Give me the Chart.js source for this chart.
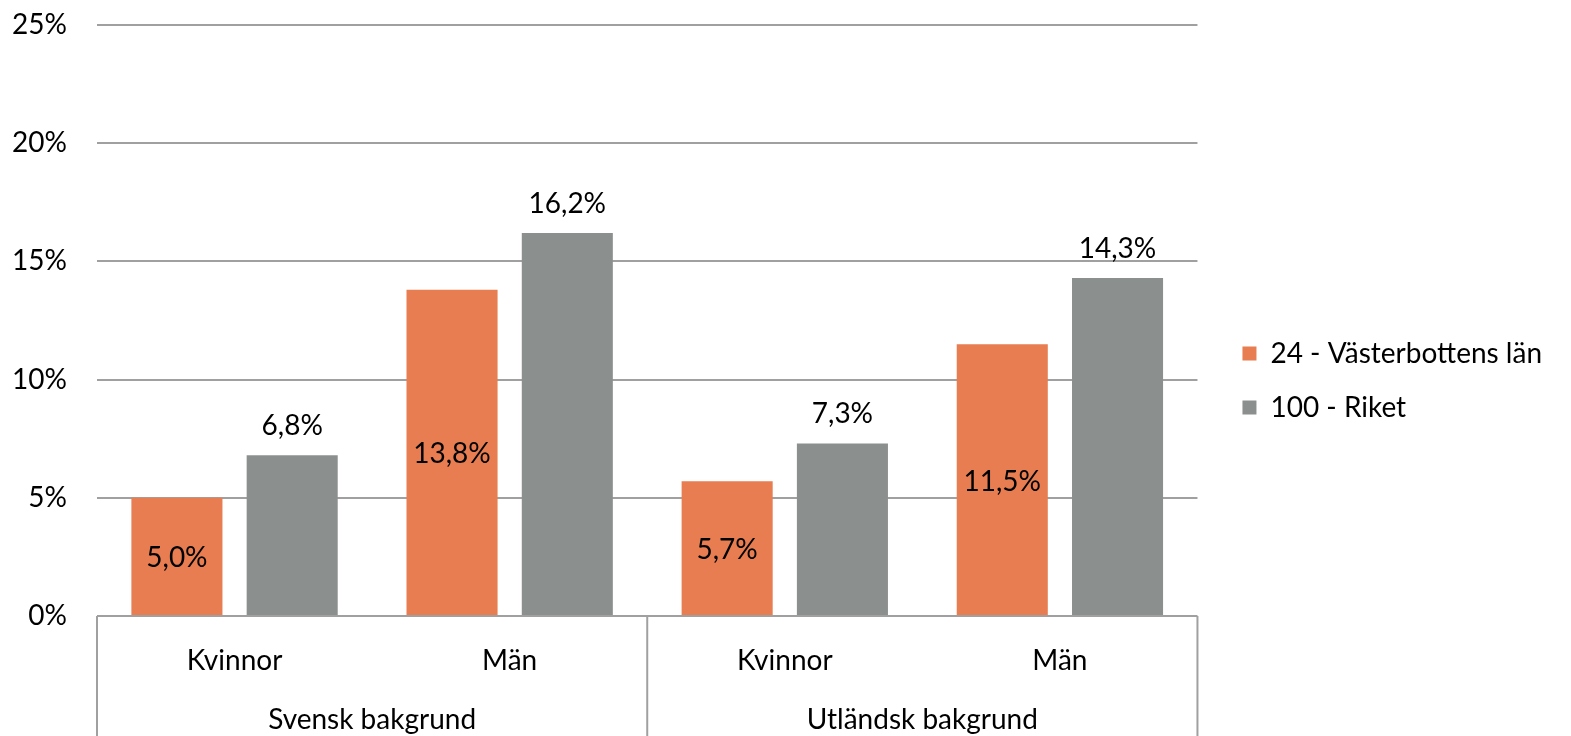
<!DOCTYPE html>
<html>
<head>
<meta charset="utf-8">
<script src="https://cdn.jsdelivr.net/npm/chart.js@4.4.0/dist/chart.umd.min.js"></script>
<style>
  html, body { margin: 0; padding: 0; background: #fff; }
  #wrap { width: 1571px; height: 736px; }
</style>
</head>
<body>
<div id="wrap"><canvas id="graf"></canvas></div>
<script>
// kategorier och grupper
var kategorier = ['Kvinnor', 'Män', 'Kvinnor', 'Män'];
var grupper = ['Svensk bakgrund', 'Utländsk bakgrund'];
var serieNamn = ['24 - Västerbottens län', '100 - Riket'];
var vasterbotten = [5.0, 13.8, 5.7, 11.5];
var riket = [6.8, 16.2, 7.3, 14.3];
var yTicks = [0, 5, 10, 15, 20, 25];

var fontNamn = 'Lato, "Open Sans", sans-serif';
var fs = 28;

function fmt(v) {
    return v.toFixed(1).replace('.', ',') + '%';
}

// etiketter på staplarna + ramen under x-axeln
var etikettPlugin = {
    id: 'etiketter',
    afterDatasetsDraw: function (chart) {
        var ctx = chart.ctx;
        ctx.save();
        ctx.fillStyle = '#000';
        ctx.font = fs + 'px ' + fontNamn;
        ctx.textAlign = 'center';
        ctx.textBaseline = 'middle';
        chart.data.datasets.forEach(function (ds, i) {
            var meta = chart.getDatasetMeta(i);
            meta.data.forEach(function (bar, j) {
                var v = ds.data[j];
                if (i === 0) {
                    ctx.fillText(fmt(v), bar.x, (bar.y + bar.base) / 2 + 2);
                } else {
                    ctx.fillText(fmt(v), bar.x, bar.y - 29);
                }
            });
        });
        ctx.restore();
    },
    afterDraw: function (chart) {
        var ctx = chart.ctx;
        var x = chart.scales.x;
        var area = chart.chartArea;
        var mitt = (x.getPixelForValue(1) + x.getPixelForValue(2)) / 2;
        var linjer = [x.left, mitt, x.right];
        ctx.save();
        ctx.strokeStyle = '#a0a0a0';
        ctx.lineWidth = 2;
        linjer.forEach(function (lx) {
            ctx.beginPath();
            ctx.moveTo(lx, area.bottom);
            ctx.lineTo(lx, chart.height);
            ctx.stroke();
        });
        ctx.fillStyle = '#000';
        ctx.font = fs + 'px ' + fontNamn;
        ctx.textAlign = 'center';
        ctx.textBaseline = 'middle';
        ctx.fillText(grupper[0], (x.left + mitt) / 2, area.bottom + 104);
        ctx.fillText(grupper[1], (mitt + x.right) / 2, area.bottom + 104);
        ctx.restore();
    }
};

new Chart(document.getElementById('graf'), {
    type: 'bar',
    data: {
        labels: kategorier,
        datasets: [{
            label: serieNamn[0],
            data: vasterbotten,
            backgroundColor: '#e77d50',
            categoryPercentage: 0.838,
            barPercentage: 0.79
        }, {
            label: serieNamn[1],
            data: riket,
            backgroundColor: '#8b908e',
            categoryPercentage: 0.838,
            barPercentage: 0.79
        }]
    },
    options: {
        responsive: true,
        maintainAspectRatio: false,
        animation: false,
        layout: { padding: { top: 25, right: 19, left: 0, bottom: 0 } },
        plugins: {
            tooltip: { enabled: false },
            legend: {
                position: 'right',
                align: 'center',
                maxWidth: 400,
                labels: {
                    boxWidth: 14,
                    boxHeight: 14,
                    padding: 26,
                    color: '#000',
                    font: { family: fontNamn, size: fs }
                }
            }
        },
        scales: {
            x: {
                grid: { display: false },
                border: { display: false },
                ticks: {
                    color: '#000',
                    padding: 20,
                    font: { family: fontNamn, size: fs }
                },
                afterFit: function (s) { s.height = 120; }
            },
            y: {
                min: 0,
                max: 25,
                afterBuildTicks: function (s) {
                    s.ticks = yTicks.map(function (v) { return { value: v }; });
                },
                grid: { color: '#a0a0a0', lineWidth: 2, drawTicks: false },
                border: { display: false },
                ticks: {
                    color: '#000',
                    padding: 30,
                    font: { family: fontNamn, size: fs },
                    callback: function (v) { return v + '%'; }
                },
                afterFit: function (s) {
                    s.width = 97;
                    s.paddingTop = 17;
                    s.paddingBottom = 17;
                }
            },
            // tom axel som bara ger luft mellan diagram och förklaring
            luft: {
                position: 'right',
                display: true,
                grid: { display: false },
                border: { display: false },
                ticks: { display: false },
                afterFit: function (s) { s.width = 19; }
            }
        }
    },
    plugins: [etikettPlugin]
});
</script>
</body>
</html>
